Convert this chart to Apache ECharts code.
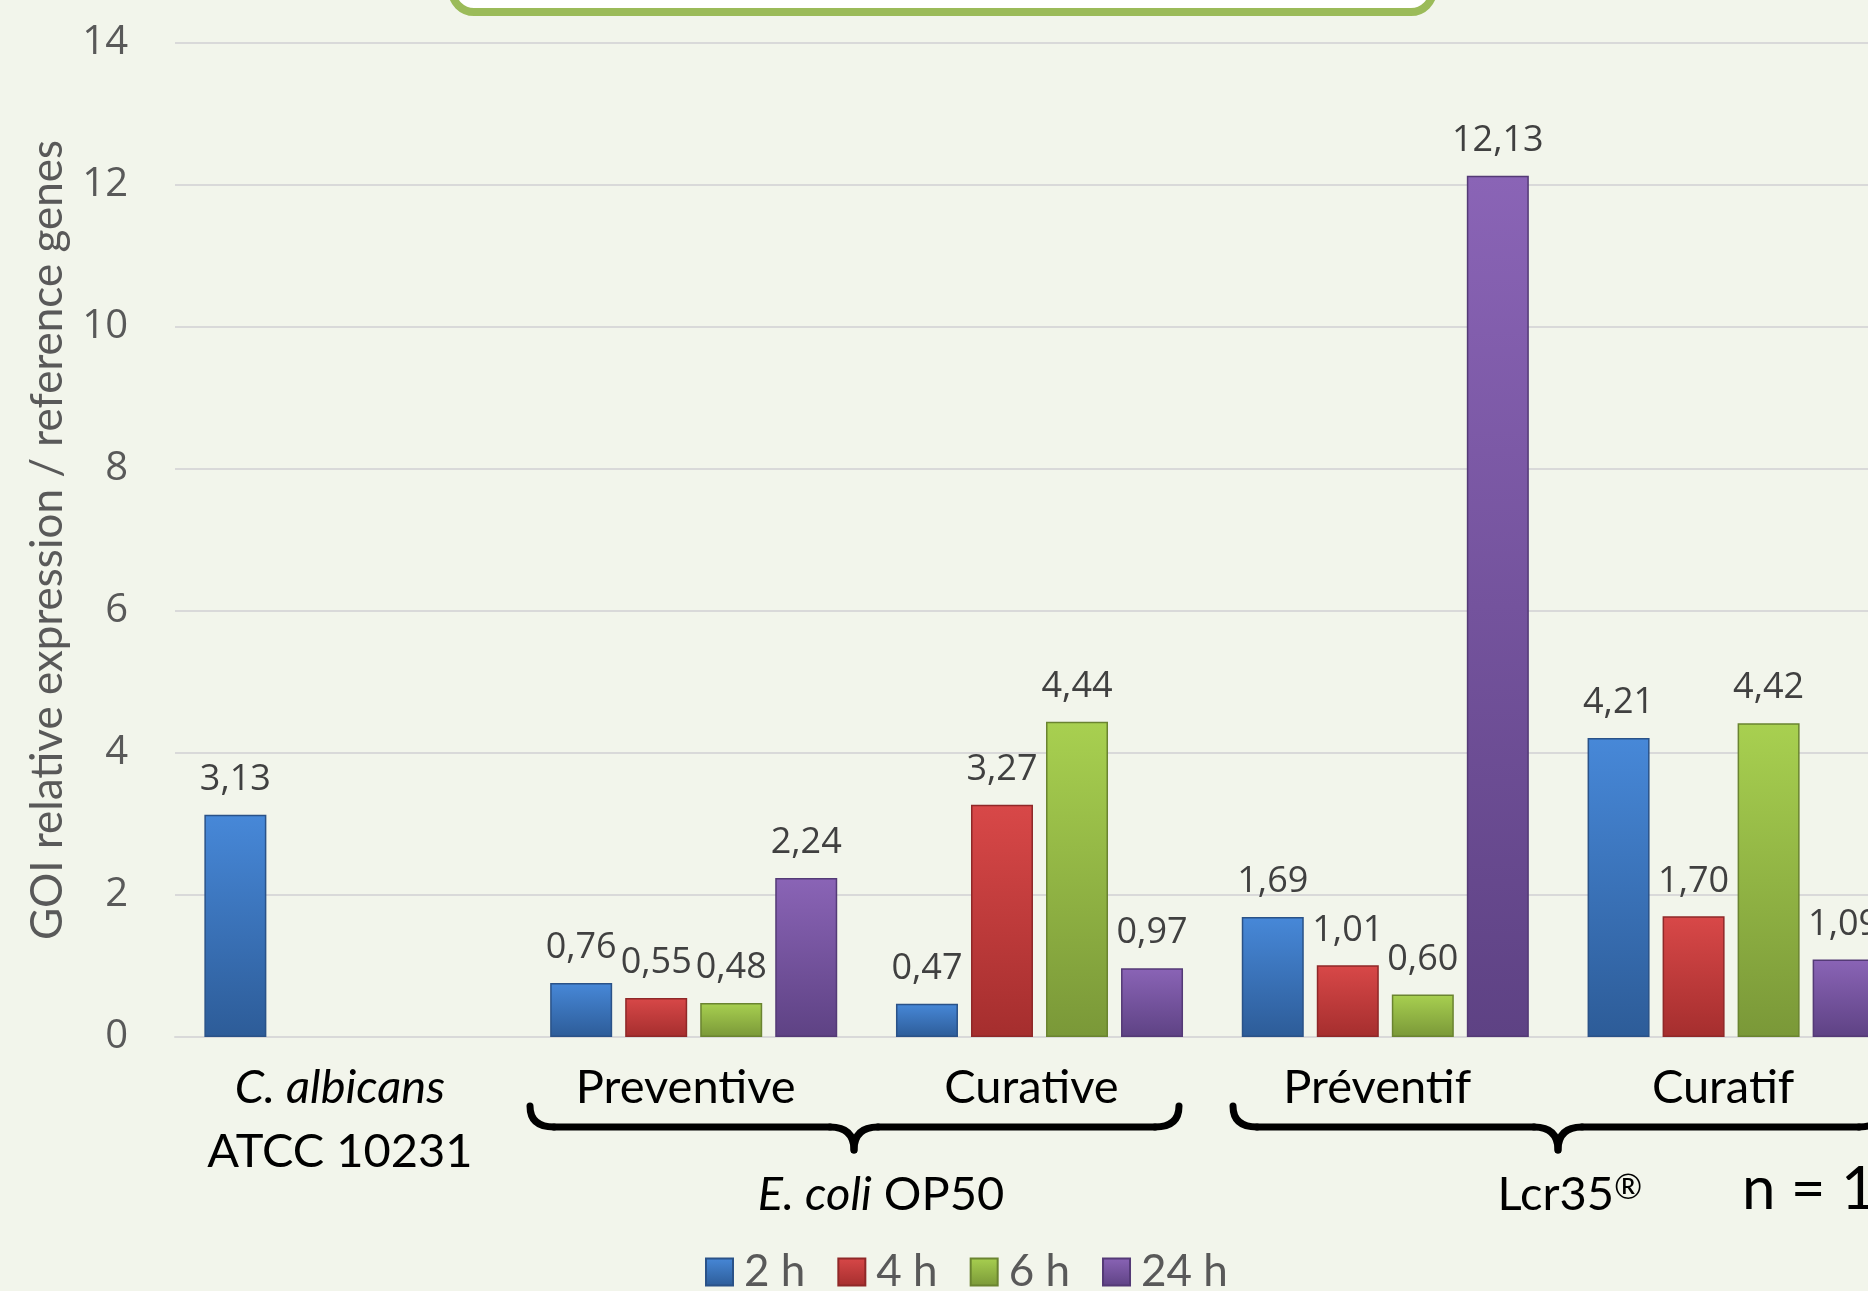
<!DOCTYPE html>
<html>
<head>
<meta charset="utf-8">
<script src="https://cdn.jsdelivr.net/npm/echarts@6/dist/echarts.min.js"></script>
<style>
    html, body { margin: 0; padding: 0; overflow: hidden; background: #f2f5eb; }
    #chart { width: 2000px; height: 1291px; }
</style>
</head>
<body>
<div id="chart"></div>
<script>
    // data
    var categories = ['C. albicans\nATCC 10231', 'Preventive', 'Curative', 'Préventif', 'Curatif'];
    var seriesNames = ['2 h', '4 h', '6 h', '24 h'];
    var h2 = [3.13, 0.76, 0.47, 1.69, 4.21];
    var h4 = [null, 0.55, 3.27, 1.01, 1.70];
    var h6 = [null, 0.48, 4.44, 0.60, 4.42];
    var h24 = [null, 2.24, 0.97, 12.13, 1.09];
    var yTicks = [0, 2, 4, 6, 8, 10, 12, 14];
    var groupLabels = ['E. coli OP50', 'Lcr35®'];
    var sampleNote = 'n = 1';
    var yName = 'GOI relative expression / reference genes';

    var chart = echarts.init(document.getElementById('chart'));

    function grad(top, bottom) {
        return {
            type: 'linear', x: 0, y: 0, x2: 0, y2: 1,
            colorStops: [
                { offset: 0, color: top },
                { offset: 1, color: bottom }
            ]
        };
    }

    function barSeries(name, data, top, bottom, border) {
        return {
            name: name,
            type: 'bar',
            data: data,
            barWidth: 62,
            barGap: '21%',
            itemStyle: { color: grad(top, bottom), borderColor: border, borderWidth: 1.5 },
            label: {
                show: true,
                position: 'top',
                distance: 17,
                color: '#404040',
                fontFamily: 'Open Sans',
                fontSize: 36,
                formatter: function (p) {
                    return p.value.toFixed(2).replace('.', ',');
                }
            }
        };
    }

    // curly brace built from lines and quadratic curves
    function brace(L, R, M, T, H, P, r) {
        var st = { stroke: '#000', lineWidth: 7, lineCap: 'round', fill: null };
        var curve = function (x1, y1, cx, cy, x2, y2) {
            return { type: 'bezierCurve', shape: { x1: x1, y1: y1, cpx1: cx, cpy1: cy, x2: x2, y2: y2 }, style: st };
        };
        var line = function (x1, y1, x2, y2) {
            return { type: 'line', shape: { x1: x1, y1: y1, x2: x2, y2: y2 }, style: st };
        };
        return [
            curve(L, T, L, H, L + r, H),
            line(L + r, H, M - r, H),
            curve(M - r, H, M, H, M, P),
            curve(M, P, M, H, M + r, H),
            line(M + r, H, R - r, H),
            curve(R - r, H, R, H, R, T)
        ];
    }

    var textFont = { fontFamily: 'Lato', fontSize: 47, color: '#000', lineHeight: 64 };

    var graphics = [
        {
            type: 'rect',
            shape: { x: 452, y: -60, width: 981, height: 72, r: 22 },
            style: { fill: '#ffffff', stroke: '#9bbb59', lineWidth: 8 }
        },
        {
            type: 'text',
            x: 881,
            y: 1195,
            style: {
                text: groupLabels[0].replace('E. coli', '{i|E. coli}'),
                fontFamily: 'Lato', fontSize: 47, fill: '#000',
                align: 'center', verticalAlign: 'middle',
                rich: { i: { fontFamily: 'Lato', fontSize: 47, fontStyle: 'italic', fill: '#000' } }
            }
        },
        {
            type: 'text',
            x: 1570,
            y: 1195,
            style: {
                text: groupLabels[1].replace('®', '{s|®}'),
                fontFamily: 'Lato', fontSize: 47, fill: '#000',
                align: 'center', verticalAlign: 'middle',
                rich: { s: { fontFamily: 'Lato', fontSize: 34, fill: '#000', verticalAlign: 'top' } }
            }
        },
        {
            type: 'text',
            x: 1742,
            y: 1190,
            style: {
                text: sampleNote,
                fontFamily: 'Lato', fontSize: 60, fill: '#000',
                align: 'left', verticalAlign: 'middle'
            }
        }
    ].concat(brace(530, 1179, 854, 1106, 1127, 1150, 24), brace(1233, 1883, 1558, 1106, 1127, 1150, 24));

    chart.setOption({
        animation: false,
        backgroundColor: '#f2f5eb',
        grid: { left: 175, top: 43, right: 96, bottom: 254 },
        legend: {
            data: seriesNames,
            left: 705,
            top: 1250,
            padding: 0,
            icon: 'rect',
            itemWidth: 27,
            itemHeight: 27,
            itemGap: 32,
            textStyle: { fontFamily: 'Lato', fontSize: 44, color: '#595959', padding: [0, 0, 0, 6] }
        },
        xAxis: {
            type: 'category',
            data: categories,
            axisLine: { lineStyle: { color: '#d9d9d9', width: 2 } },
            axisTick: { show: false },
            axisLabel: {
                interval: 0,
                margin: 19,
                padding: [0, 16, 0, 0],
                formatter: function (v, i) {
                    var lines = v.split('\n');
                    if (i === 0) return '{it|' + lines[0] + '}\n{n|' + lines[1] + '}';
                    return '{n|' + v + '}';
                },
                rich: {
                    it: Object.assign({ fontStyle: 'italic' }, textFont),
                    n: textFont
                }
            }
        },
        yAxis: {
            type: 'value',
            min: yTicks[0],
            max: yTicks[yTicks.length - 1],
            interval: yTicks[1] - yTicks[0],
            name: yName,
            nameLocation: 'middle',
            nameGap: 105,
            nameTextStyle: { fontFamily: 'Lato', fontSize: 44, color: '#595959' },
            axisLine: { show: false },
            axisTick: { show: false },
            axisLabel: { margin: 47, fontFamily: 'Open Sans', fontSize: 40, color: '#595959' },
            splitLine: { lineStyle: { color: '#d9d9d9', width: 2 } }
        },
        series: [
            barSeries(seriesNames[0], h2, '#4788d8', '#2d5c98', '#2a5288'),
            barSeries(seriesNames[1], h4, '#d84848', '#a52e2e', '#8f2828'),
            barSeries(seriesNames[2], h6, '#a8d050', '#7a9838', '#6a8430'),
            barSeries(seriesNames[3], h24, '#8a64b6', '#5e4284', '#543a76')
        ],
        graphic: graphics
    });
</script>
</body>
</html>
